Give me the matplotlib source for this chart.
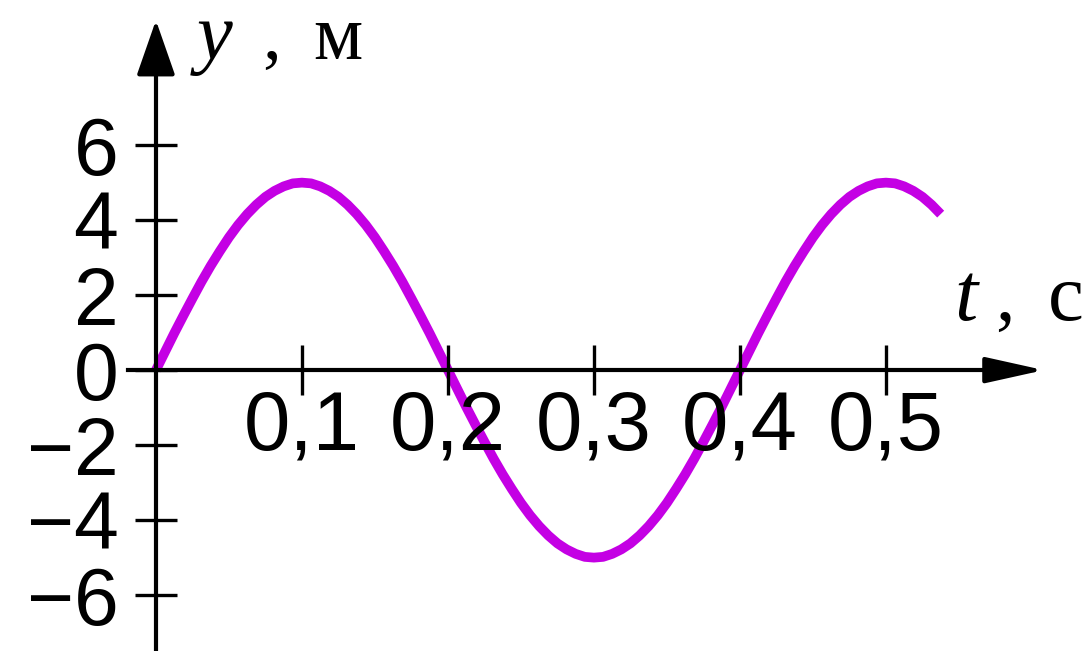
import matplotlib
matplotlib.use("Agg")
import matplotlib.pyplot as plt

# ---- data ----
t_values = [
    0.0, 0.00625, 0.0125, 0.01875, 0.025, 0.03125, 0.0375, 0.04375,
    0.05, 0.05625, 0.0625, 0.06875, 0.075, 0.08125, 0.0875, 0.09375,
    0.1, 0.10625, 0.1125, 0.11875, 0.125, 0.13125, 0.1375, 0.14375,
    0.15, 0.15625, 0.1625, 0.16875, 0.175, 0.18125, 0.1875, 0.19375,
    0.2, 0.20625, 0.2125, 0.21875, 0.225, 0.23125, 0.2375, 0.24375,
    0.25, 0.25625, 0.2625, 0.26875, 0.275, 0.28125, 0.2875, 0.29375,
    0.3, 0.30625, 0.3125, 0.31875, 0.325, 0.33125, 0.3375, 0.34375,
    0.35, 0.35625, 0.3625, 0.36875, 0.375, 0.38125, 0.3875, 0.39375,
    0.4, 0.40625, 0.4125, 0.41875, 0.425, 0.43125, 0.4375, 0.44375,
    0.45, 0.45625, 0.4625, 0.46875, 0.475, 0.48125, 0.4875, 0.49375,
    0.5, 0.50625, 0.5125, 0.51875, 0.525, 0.53125, 0.5375]
y_values = [
    0.0, 0.49, 0.98, 1.45, 1.91, 2.36, 2.78, 3.17,
    3.54, 3.87, 4.16, 4.41, 4.62, 4.78, 4.90, 4.98,
    5.00, 4.98, 4.90, 4.78, 4.62, 4.41, 4.16, 3.87,
    3.54, 3.17, 2.78, 2.36, 1.91, 1.45, 0.98, 0.49,
    0.0, -0.49, -0.98, -1.45, -1.91, -2.36, -2.78, -3.17,
    -3.54, -3.87, -4.16, -4.41, -4.62, -4.78, -4.90, -4.98,
    -5.00, -4.98, -4.90, -4.78, -4.62, -4.41, -4.16, -3.87,
    -3.54, -3.17, -2.78, -2.36, -1.91, -1.45, -0.98, -0.49,
    0.0, 0.49, 0.98, 1.45, 1.91, 2.36, 2.78, 3.17,
    3.54, 3.87, 4.16, 4.41, 4.62, 4.78, 4.90, 4.98,
    5.00, 4.98, 4.90, 4.78, 4.62, 4.41, 4.16]
x_ticks = [0.1, 0.2, 0.3, 0.4, 0.5]
x_tick_labels = ["0,1", "0,2", "0,3", "0,4", "0,5"]
y_ticks = [-6, -4, -2, 0, 2, 4, 6]
y_tick_labels = ["\u22126", "\u22124", "\u22122", "0", "2", "4", "6"]
y_axis_label = ("y", ",", "м")
x_axis_label = ("t", ",", "c")

# ---- figure ----
fig = plt.figure(figsize=(10.88, 6.51), dpi=100)
ax = fig.add_axes([0, 0, 1, 1])
ax.set_xlim(-0.1068, 0.6384)
ax.set_ylim(-7.49, 9.87)
ax.patch.set_alpha(0)

ax.plot(t_values, y_values, color="#c400e4", lw=7.0, solid_capstyle="butt",
        solid_joinstyle="round", zorder=2)

for s in ("top", "right"):
    ax.spines[s].set_visible(False)
ax.spines["left"].set_position(("data", 0))
ax.spines["bottom"].set_position(("data", 0))
ax.spines["left"].set_bounds(-7.49, 8.3)
ax.spines["bottom"].set_bounds(-0.0192, 0.575)
for s in ("left", "bottom"):
    ax.spines[s].set_linewidth(3.0)
    ax.spines[s].set_zorder(3)
ax.set_axisbelow(False)

# arrow heads
ax.annotate("", xy=(0.6082, 0), xytext=(0.57, 0),
            arrowprops=dict(arrowstyle="-|>,head_length=0.9,head_width=0.2",
                            mutation_scale=40, lw=3.0, color="black",
                            shrinkA=0, shrinkB=0), zorder=3)
ax.annotate("", xy=(0, 9.33), xytext=(0, 8.25),
            arrowprops=dict(arrowstyle="-|>,head_length=0.86,head_width=0.3",
                            mutation_scale=40, lw=3.0, color="black",
                            shrinkA=0, shrinkB=0), zorder=3)

ax.set_xticks(x_ticks)
ax.set_xticklabels(x_tick_labels)
ax.set_yticks(y_ticks)
ax.set_yticklabels(y_tick_labels)
ax.tick_params(axis="x", direction="inout", length=36, width=2.4, pad=-5,
               labelsize=60)
ax.tick_params(axis="y", direction="inout", length=30, width=2.4, pad=12,
               labelsize=58)
for lab in ax.get_xticklabels() + ax.get_yticklabels():
    lab.set_family("Liberation Sans")

# axis titles
serif = "Liberation Serif"
ax.text(0.028, 8.3, y_axis_label[0], fontsize=58, family=serif,
        style="italic", ha="left", va="baseline")
ax.text(0.073, 8.3, y_axis_label[1], fontsize=54, family=serif,
        ha="left", va="baseline")
ax.text(0.108, 8.3, y_axis_label[2], fontsize=56, family=serif,
        ha="left", va="baseline")
ax.text(0.547, 1.333, x_axis_label[0], fontsize=60, family=serif,
        style="italic", ha="left", va="baseline")
ax.text(0.575, 1.333, x_axis_label[1], fontsize=56, family=serif,
        ha="left", va="baseline")
ax.text(0.611, 1.333, x_axis_label[2], fontsize=58, family=serif,
        ha="left", va="baseline")

fig.savefig("out.png", dpi=100)
